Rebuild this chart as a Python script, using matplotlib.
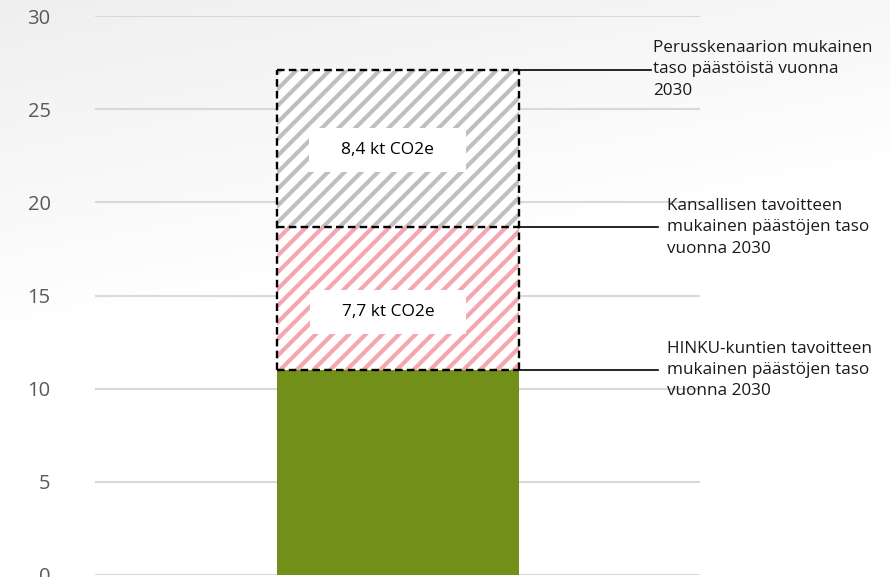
import numpy as np
import matplotlib.pyplot as plt

plt.rcParams['font.family'] = ['Open Sans', 'DejaVu Sans']

# stacked segments of the single bar (kt CO2e)
segments = ["HINKU", "Kansallinen", "Perusskenaario"]
values = [11.0, 7.7, 8.4]
seg_colors = ["#728f19", "#f4a6b1", "#bfbfbf"]
seg_labels = [None, "7,7 kt CO2e", "8,4 kt CO2e"]
label_shift = [0, -0.75, -0.08]
notes = [
    "HINKU-kuntien tavoitteen\nmukainen päästöjen taso\nvuonna 2030",
    "Kansallisen tavoitteen\nmukainen päästöjen taso\nvuonna 2030",
    "Perusskenaarion mukainen\ntaso päästöistä vuonna\n2030",
]
yticks = [0, 5, 10, 15, 20, 25, 30]

fig = plt.figure(figsize=(8.9, 5.77), dpi=100)

# soft grey-to-white background
bg = fig.add_axes([0, 0, 1, 1], zorder=-10)
yy, xx = np.mgrid[0:1:200j, 0:1:300j]
shade = 0.937 + 0.063 * np.clip(1.7 * (1 - yy) + 0.5 * xx, 0, 1)
bg.imshow(np.dstack([shade] * 3), aspect="auto", extent=[0, 1, 0, 1],
          origin="lower")
bg.axis("off")

ax = fig.add_axes([95 / 890, 2 / 577, 605 / 890, 559 / 577])
ax.patch.set_alpha(0)
ax.set_xlim(-0.5, 0.5)
ax.set_ylim(0, 30)
ax.set_yticks(yticks)
ax.set_xticks([])
for s in ax.spines.values():
    s.set_visible(False)
ax.tick_params(axis="y", length=0, pad=32, labelsize=14.5, labelcolor="#595959")
ax.yaxis.grid(True, color="#d9d9d9", linewidth=1.5)
ax.set_axisbelow(True)

bar_w = 0.4
bottom = 0
plt.rcParams['hatch.linewidth'] = 3.0
for i, (v, c, lab, sh) in enumerate(zip(values, seg_colors, seg_labels, label_shift)):
    if i == 0:
        ax.bar(0, v, bar_w, bottom=bottom, color=c, zorder=2)
    else:
        ax.bar(0, v, bar_w, bottom=bottom, color="white", edgecolor=c,
               hatch="//", linewidth=0, zorder=2)
        ax.text(-0.016, bottom + v / 2 + sh, "    " + lab + "    ", ha="center",
                va="center", fontsize=12.5, color="#000000", zorder=4,
                bbox=dict(boxstyle="square,pad=0.8", fc="white", ec="none"))
    bottom += v

# dashed outline around the hatched segments
tops = np.cumsum(values)
dash = dict(color="black", linewidth=1.7, linestyle=(0, (3.2, 1.8)), zorder=3)
ax.hlines(tops, -bar_w / 2, bar_w / 2, **dash)
ax.vlines([-bar_w / 2, bar_w / 2], tops[0], tops[-1], **dash)

# annotation leaders
line_end = [0.43, 0.43, 0.419]
text_x = [0.445, 0.445, 0.422]
text_dy = [0.0, -0.05, 0.05]
for top, note, le, tx, dy in zip(tops, notes, line_end, text_x, text_dy):
    ax.plot([bar_w / 2, le], [top, top], color="black", linewidth=1.2,
            zorder=3, clip_on=False)
    ax.text(tx, top + dy, note, ha="left", va="center", fontsize=12.3,
            color="#1a1a1a", linespacing=1.45, clip_on=False)

fig.savefig("out.png", dpi=100)
